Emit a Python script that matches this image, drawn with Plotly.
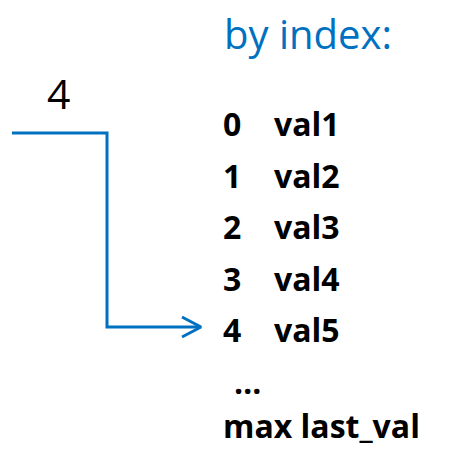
import plotly.graph_objects as go

W, H = 462, 449
BLUE = "#0070C0"

# data
indices = ["0", "1", "2", "3", "4"]
values = ["val1", "val2", "val3", "val4", "val5"]
tail_label = "max last_val"
lookup_key = "4"
title_text = "by index:"

# connector path (pixel space)
path_x = [12, 107, 107, 200]
path_y = [133, 133, 327, 327]
head_x = [182, 201, 182]
head_y = [317, 327, 337]

row_y0 = 123.5
row_step = 51.5
idx_x = 221
val_x = 272

fig = go.Figure()
fig.add_trace(go.Scatter(x=path_x, y=path_y, mode="lines",
                         line=dict(color=BLUE, width=3), hoverinfo="skip"))
fig.add_trace(go.Scatter(x=head_x, y=head_y, mode="lines",
                         line=dict(color=BLUE, width=3), hoverinfo="skip"))

FONT = "Open Sans"
ann = []
for i, (k, v) in enumerate(zip(indices, values)):
    y = row_y0 + i * row_step
    ann.append(dict(x=idx_x, y=y, text=f"<b>{k}</b>", xanchor="left", yanchor="middle"))
    ann.append(dict(x=val_x, y=y, text=f"<b>{v}</b>", xanchor="left", yanchor="middle"))
ann.append(dict(x=232, y=row_y0 + 5 * row_step, text="<b>…</b>", xanchor="left", yanchor="middle"))
ann.append(dict(x=idx_x, y=H, text=f"<b>{tail_label}</b>", xanchor="left", yanchor="bottom"))
for a in ann:
    a.update(showarrow=False, font=dict(family=FONT, size=32, color="black"), xref="x", yref="y")

ann.append(dict(x=58, y=93, text=lookup_key, showarrow=False, xanchor="center", yanchor="middle",
                font=dict(family=FONT, size=41, color="black"), xref="x", yref="y"))
ann.append(dict(x=222, y=33, text=title_text, showarrow=False, xanchor="left", yanchor="middle",
                font=dict(family=FONT, size=40, color=BLUE), xref="x", yref="y"))

fig.update_layout(
    width=W, height=H, margin=dict(l=0, r=0, t=0, b=0),
    paper_bgcolor="white", plot_bgcolor="white", showlegend=False,
    xaxis=dict(range=[0, W], visible=False, fixedrange=True),
    yaxis=dict(range=[H, 0], visible=False, fixedrange=True),
    annotations=ann,
)
fig.write_html("out.html", config={"displayModeBar": False},
               post_script="document.body.style.margin='0';document.body.style.overflow='hidden';")
